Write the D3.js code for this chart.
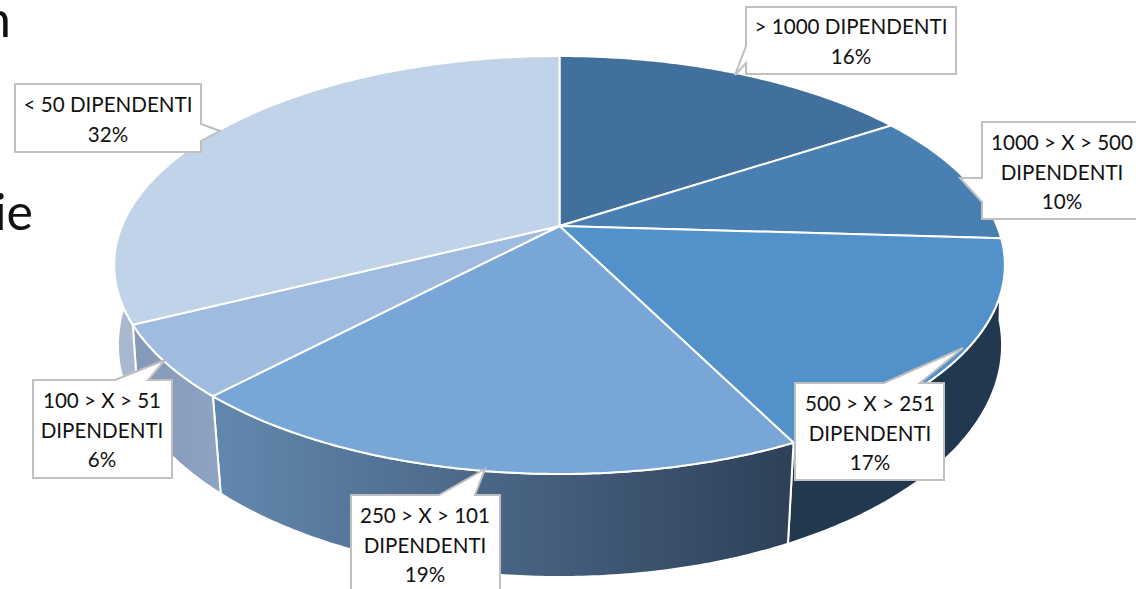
<!DOCTYPE html>
<html>
<head>
<meta charset="utf-8">
<script src="https://cdn.jsdelivr.net/npm/d3@7"></script>
<style>
  html, body { margin: 0; padding: 0; background: #fff; overflow: hidden; }
  svg { display: block; }
  text { font-family: Lato, "Noto Sans", sans-serif; fill: #111; }
</style>
</head>
<body>
<div id="content"></div>
<script>
// slice shares (labels show them rounded)
var shares = [15.75, 10.2, 16.7, 19.35, 5.6, 32.4];
var labels = [
  ["> 1000 DIPENDENTI", "16%"],
  ["1000 > X > 500", "DIPENDENTI", "10%"],
  ["500 > X > 251", "DIPENDENTI", "17%"],
  ["250 > X > 101", "DIPENDENTI", "19%"],
  ["100 > X > 51", "DIPENDENTI", "6%"],
  ["< 50 DIPENDENTI", "32%"]
];
var topColors = ["#41709c", "#4a7fb2", "#5291c9", "#78a6d7", "#a0bbe0", "#c1d3e8"];
var wallColors = [["#2c4a68", "#2c4a68"], ["#2c4a68", "#2c4a68"], ["#22384f", "#22384f"],
                  ["#6287ae", "#2f4159"], ["#8599b8", "#8ea4c2"], ["#a8b9cf", "#a8b9cf"]];

var win_width = 1136;
var win_height = 589;

var svg = d3.select("#content").append("svg")
  .attr("width", win_width)
  .attr("height", win_height);

// perspective view of a circle, the apex is not at the ellipse centre
var topFace = {cx: 559.5, cy: 226, a: 437.5, b: 201.7, k: -0.1866};
var bottomFace = {cx: 560, cy: 306.7, a: 436, b: 225.7, k: -0.165};

function project(face, th) {
  var u = Math.sin(th), v = -Math.cos(th);
  var d = 1 + face.k * v;
  return [face.cx + face.a * u / d, face.cy + face.b * v / d];
}

function arcPoints(face, a0, a1) {
  var n = Math.max(2, Math.ceil(Math.abs(a1 - a0) / 0.01));
  return d3.range(n + 1).map(function(i) {
    return project(face, a0 + (a1 - a0) * i / n);
  });
}

var line = d3.line();
var slices = d3.pie().sort(null)(shares);

var defs = svg.append("defs");
slices.forEach(function(s, i) {
  var p0 = project(bottomFace, s.startAngle), p1 = project(bottomFace, s.endAngle);
  var g = defs.append("linearGradient")
    .attr("id", "wall" + i)
    .attr("gradientUnits", "userSpaceOnUse")
    .attr("x1", p0[0]).attr("y1", 0)
    .attr("x2", p1[0]).attr("y2", 0);
  // clockwise on the front runs right to left, so first colour is the left end
  g.append("stop").attr("offset", 0).attr("stop-color", wallColors[i][1]);
  g.append("stop").attr("offset", 1).attr("stop-color", wallColors[i][0]);
});

// cut off text from the slide behind the chart
svg.append("text").attr("x", 11).attr("y", 37).attr("text-anchor", "end")
  .style("font-size", "50px").text("n");
svg.append("text").attr("x", 33).attr("y", 230).attr("text-anchor", "end")
  .style("font-size", "50px").text("ie");

// walls first, the top face paints over the hidden part
svg.append("g").selectAll("path")
  .data(slices)
  .join("path")
  .attr("d", function(s) {
    var pts = arcPoints(topFace, s.startAngle, s.endAngle)
      .concat(arcPoints(bottomFace, s.endAngle, s.startAngle));
    return line(pts) + "Z";
  })
  .attr("fill", function(s, i) { return "url(#wall" + i + ")"; })
  .attr("stroke", "#fff")
  .attr("stroke-width", 2)
  .attr("stroke-linejoin", "round");

svg.append("g").selectAll("path")
  .data(slices)
  .join("path")
  .attr("d", function(s) {
    var pts = [[topFace.cx, topFace.cy]]
      .concat(arcPoints(topFace, s.startAngle, s.endAngle));
    return line(pts) + "Z";
  })
  .attr("fill", function(s, i) { return topColors[i]; })
  .attr("stroke", "#fff")
  .attr("stroke-width", 2)
  .attr("stroke-linejoin", "round");

// callout boxes: box edges, pointer and the text baselines
var callouts = [
  {x0: 746, y0: 7, x1: 956, y1: 74, tip: [735, 75], side: "left", p0: 46, p1: 63, cx: 851, base: 34},
  {x0: 982, y0: 122, x1: 1150, y1: 219, tip: [960, 178], side: "left", p0: 178, p1: 202, cx: 1062, base: 150},
  {x0: 795, y0: 383, x1: 944, y1: 480, tip: [963, 348], side: "top", p0: 884, p1: 920, cx: 870, base: 411},
  {x0: 351, y0: 495, x1: 500, y1: 600, tip: [485, 469], side: "top", p0: 439, p1: 475, cx: 425, base: 523},
  {x0: 33, y0: 380, x1: 172, y1: 478, tip: [165, 360], side: "top", p0: 115, p1: 148, cx: 102, base: 408},
  {x0: 15, y0: 84, x1: 201, y1: 152, tip: [220, 131], side: "right", p0: 124, p1: 141, cx: 108, base: 112}
];

function calloutPath(c) {
  var pts;
  if (c.side === "top") {
    pts = [[c.x0, c.y0], [c.p0, c.y0], c.tip, [c.p1, c.y0], [c.x1, c.y0], [c.x1, c.y1], [c.x0, c.y1]];
  } else if (c.side === "left") {
    pts = [[c.x0, c.y0], [c.x1, c.y0], [c.x1, c.y1], [c.x0, c.y1], [c.x0, c.p1], c.tip, [c.x0, c.p0]];
  } else {
    pts = [[c.x0, c.y0], [c.x1, c.y0], [c.x1, c.p0], c.tip, [c.x1, c.p1], [c.x1, c.y1], [c.x0, c.y1]];
  }
  return line(pts) + "Z";
}

var boxes = svg.append("g").selectAll("g")
  .data(callouts)
  .join("g");

boxes.append("path")
  .attr("d", calloutPath)
  .attr("fill", "#fff")
  .attr("stroke", "#bfbfbf")
  .attr("stroke-width", 2);

boxes.each(function(c, i) {
  d3.select(this).selectAll("text")
    .data(labels[i])
    .join("text")
    .attr("x", c.cx)
    .attr("y", function(d, j) { return c.base + j * 29.5; })
    .attr("text-anchor", "middle")
    .style("font-size", "20.6px")
    .text(function(d) { return d; });
});
</script>
</body>
</html>
